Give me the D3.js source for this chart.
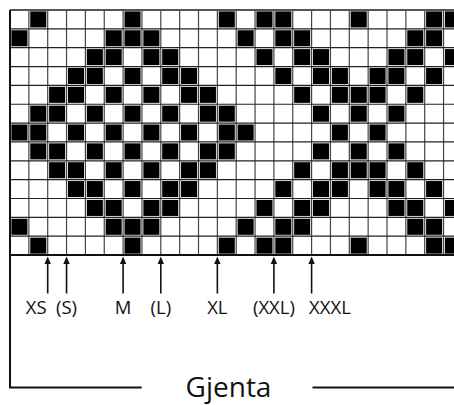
<!DOCTYPE html>
<html>
  <head>
    <meta charset="utf-8">
    <title>Gjenta</title>
    <script src="https://cdn.jsdelivr.net/npm/d3@7"></script>
    <style>
      html, body { margin: 0; padding: 0; background: #fff; }
      #chart { width: 454px; height: 405px; overflow: hidden; }
      text { font-family: "Open Sans", sans-serif; fill: #111; }
    </style>
  </head>
  <body>
    <div id="chart"></div>
    <script>
      // chart rows, top to bottom, 1 = black stitch
      var pattern = [
        "010000100001011000100011",
        "100001110000101100000110",
        "000011011000010110001101",
        "000110101100001011011010",
        "001101010110000101110100",
        "011010101011000010101000",
        "110101010101100001010000",
        "011010101011000010101000",
        "001101010110000101110100",
        "000110101100001011011010",
        "000011011000010110001101",
        "100001110000101100000110",
        "010000100001011000100011"
      ];
      var sizes = ["XS", "(S)", "M", "(L)", "XL", "(XXL)", "XXXL"];
      var sizeLines = [2, 3, 6, 8, 11, 14, 16];   // grid line each arrow points at
      var repeatLabel = "Gjenta";

      var cell = 18.85, gridLeft = 10, gridTop = 10;
      var nCols = pattern[0].length, nRows = pattern.length;

      var svg = d3.select("#chart").append("svg")
        .attr("width", 454).attr("height", 405);

      var x = d3.scaleBand().domain(d3.range(nCols + 1))
        .range([gridLeft, gridLeft + (nCols + 1) * cell]);
      var y = d3.scaleBand().domain(d3.range(nRows + 1))
        .range([gridTop, gridTop + (nRows + 1) * cell]);
      var gridRight = x(nCols), gridBottom = y(nRows);

      // cells
      var cells = [];
      pattern.forEach(function(row, r) {
        row.split("").forEach(function(v, c) { if (v === "1") cells.push({r: r, c: c}); });
      });

      // grid lines
      var g = svg.append("g");
      g.selectAll("line.v").data(d3.range(1, nCols + 1)).enter().append("line")
        .attr("class", "v")
        .attr("x1", function(d) { return x(d); }).attr("x2", function(d) { return x(d); })
        .attr("y1", gridTop).attr("y2", gridBottom)
        .attr("stroke", "#444").attr("stroke-width", 1.2);
      g.selectAll("line.h").data(d3.range(1, nRows)).enter().append("line")
        .attr("class", "h")
        .attr("y1", function(d) { return y(d); }).attr("y2", function(d) { return y(d); })
        .attr("x1", gridLeft).attr("x2", gridRight)
        .attr("stroke", "#222").attr("stroke-width", 1.2);

      svg.append("g").selectAll("rect").data(cells).enter().append("rect")
        .attr("x", function(d) { return x(d.c) + 1.4; })
        .attr("y", function(d) { return y(d.r) + 1.4; })
        .attr("width", cell - 2.8).attr("height", cell - 2.8)
        .attr("fill", "#000");

      // outer border
      svg.append("line").attr("x1", gridLeft).attr("x2", gridRight).attr("y1", gridTop).attr("y2", gridTop)
        .attr("stroke", "#555").attr("stroke-width", 1.8);
      svg.append("line").attr("x1", gridLeft).attr("x2", gridRight).attr("y1", gridBottom).attr("y2", gridBottom)
        .attr("stroke", "#111").attr("stroke-width", 2);

      // repeat bracket
      var bracketY = 387.5;
      svg.append("path")
        .attr("d", "M" + gridLeft + "," + gridTop + "V" + bracketY + "H141.7")
        .attr("fill", "none").attr("stroke", "#111").attr("stroke-width", 2);
      svg.append("line").attr("x1", 312.5).attr("x2", 454).attr("y1", bracketY).attr("y2", bracketY)
        .attr("stroke", "#111").attr("stroke-width", 2);
      svg.append("text").attr("x", 228.5).attr("y", 397).attr("text-anchor", "middle")
        .attr("font-size", 28).text(repeatLabel);

      // size arrows
      var arrows = svg.append("g").selectAll("g").data(sizes).enter().append("g")
        .attr("transform", function(d, i) { return "translate(" + x(sizeLines[i]) + ",0)"; });
      arrows.append("line").attr("x1", 0).attr("x2", 0).attr("y1", 262).attr("y2", 293.5)
        .attr("stroke", "#111").attr("stroke-width", 1.6);
      arrows.append("path").attr("d", "M0,256.5L-3.2,264L3.2,264Z").attr("fill", "#111");
      arrows.append("text")
        .attr("x", function(d, i) { return i === 0 ? -1 : (i === sizes.length - 1 ? -2.5 : 0); })
        .attr("y", 313.5)
        .attr("text-anchor", function(d, i) { return i === 0 ? "end" : (i === sizes.length - 1 ? "start" : "middle"); })
        .attr("font-size", 18.5)
        .text(function(d) { return d; });
    </script>
  </body>
</html>
